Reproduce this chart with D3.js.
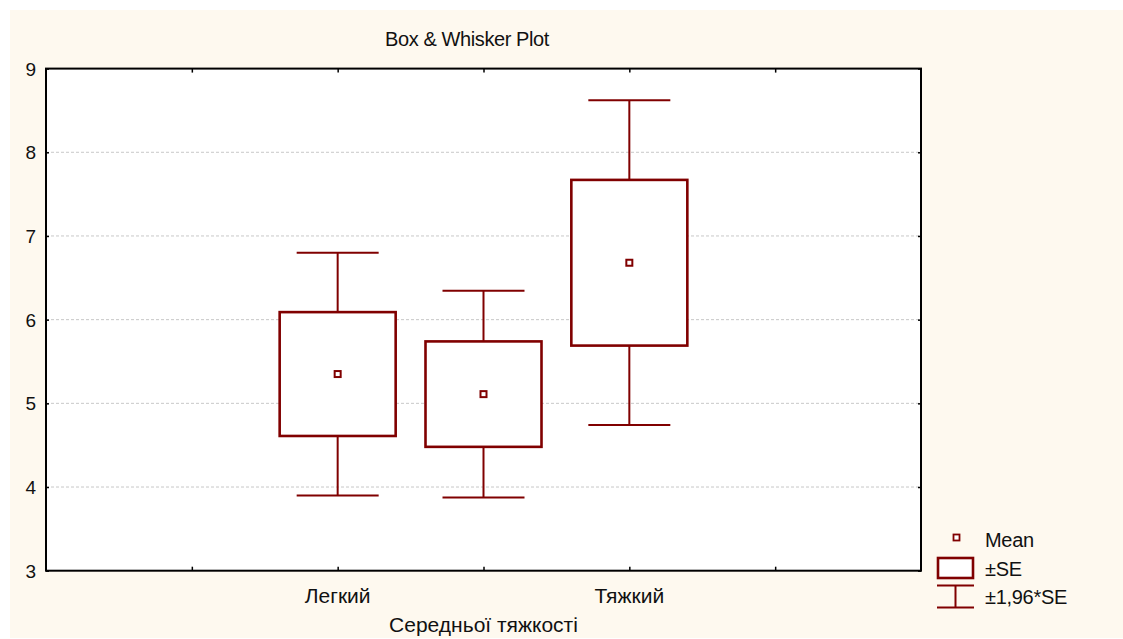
<!DOCTYPE html>
<html>
<head>
<meta charset="utf-8">
<script src="https://cdn.jsdelivr.net/npm/d3@7/dist/d3.min.js"></script>
<style>
  html, body { margin: 0; padding: 0; background: #ffffff; }
  svg { display: block; font-family: Arial, "Liberation Sans", sans-serif; }
</style>
</head>
<body>
<svg id="chart" width="1123" height="639"></svg>
<script>
// Groups and their summary statistics (mean and standard error)
const categories = ["Легкий", "Середньої тяжкості", "Тяжкий"];
const means = [5.35, 5.11, 6.68];
const stdErrors = [0.74, 0.63, 0.99];
const yTicks = [3, 4, 5, 6, 7, 8, 9];
const legendLabels = ["Mean", "±SE", "±1,96*SE"];

const color = "#800000";
const svg = d3.select("#chart");

// Figure background panel
svg.append("rect").attr("x", 10).attr("y", 10).attr("width", 1113).attr("height", 628)
  .attr("fill", "#fef9ef");

const plot = { left: 46, top: 68.6, right: 921, bottom: 570.7 };

svg.append("rect")
  .attr("x", plot.left).attr("y", plot.top)
  .attr("width", plot.right - plot.left).attr("height", plot.bottom - plot.top)
  .attr("fill", "#ffffff");

// Scales: categories sit at positions 2, 3, 4 on a 0..6 axis
const x = d3.scaleLinear().domain([0, 6]).range([plot.left, plot.right]);
const catPos = categories.map((c, i) => i + 2);
const y = d3.scaleLinear().domain([3, 9]).range([plot.bottom, plot.top]);

// Horizontal dashed grid
svg.append("g").selectAll("line")
  .data(yTicks.filter(t => t > 3 && t < 9))
  .join("line")
  .attr("x1", plot.left).attr("x2", plot.right)
  .attr("y1", d => y(d)).attr("y2", d => y(d))
  .attr("stroke", "#c8c8c8").attr("stroke-width", 1)
  .attr("stroke-dasharray", "3,2");

// Axes with inward ticks
const xTickVals = [1, 2, 3, 4, 5];
svg.append("g").attr("transform", `translate(0,${plot.bottom})`)
  .call(d3.axisTop(x).tickValues(xTickVals).tickSize(4).tickFormat(""))
  .call(g => g.select(".domain").remove())
  .call(g => g.selectAll("line").attr("stroke", "#000").attr("stroke-width", 1.5));
svg.append("g").attr("transform", `translate(0,${plot.top})`)
  .call(d3.axisBottom(x).tickValues(xTickVals).tickSize(4).tickFormat(""))
  .call(g => g.select(".domain").remove())
  .call(g => g.selectAll("line").attr("stroke", "#000").attr("stroke-width", 1.5));
svg.append("g").attr("transform", `translate(${plot.left},0)`)
  .call(d3.axisRight(y).tickValues(yTicks).tickSize(3).tickFormat(""))
  .call(g => g.select(".domain").remove())
  .call(g => g.selectAll("line").attr("stroke", "#000").attr("stroke-width", 1.5));
svg.append("g").attr("transform", `translate(${plot.right},0)`)
  .call(d3.axisLeft(y).tickValues(yTicks).tickSize(3).tickFormat(""))
  .call(g => g.select(".domain").remove())
  .call(g => g.selectAll("line").attr("stroke", "#000").attr("stroke-width", 1.5));

// Y tick labels
svg.append("g").selectAll("text")
  .data(yTicks).join("text")
  .attr("x", 36).attr("y", d => y(d) + 7)
  .attr("text-anchor", "end")
  .attr("font-size", 19).attr("fill", "#111")
  .text(d => d);

// Category labels (middle one staggered below)
svg.append("g").selectAll("text")
  .data(categories).join("text")
  .attr("x", (d, i) => x(catPos[i]))
  .attr("y", (d, i) => i === 1 ? 631.5 : 603.3)
  .attr("text-anchor", "middle")
  .attr("font-size", 21).attr("fill", "#111")
  .text(d => d);

// Title
svg.append("text")
  .attr("x", 467).attr("y", 46)
  .attr("text-anchor", "middle")
  .attr("font-size", 20).attr("fill", "#111")
  .attr("letter-spacing", -0.4)
  .text("Box & Whisker Plot");

// Boxes and whiskers
const boxW = 116, capW = 82;
const groups = svg.append("g").selectAll("g")
  .data(categories.map((c, i) => ({ c, pos: catPos[i], mean: means[i], se: stdErrors[i] })))
  .join("g");

groups.append("line")
  .attr("x1", d => x(d.pos)).attr("x2", d => x(d.pos))
  .attr("y1", d => y(d.mean + 1.96 * d.se)).attr("y2", d => y(d.mean - 1.96 * d.se))
  .attr("stroke", color).attr("stroke-width", 2);
groups.selectAll(".cap")
  .data(d => [d.mean + 1.96 * d.se, d.mean - 1.96 * d.se].map(v => ({ v, pos: d.pos })))
  .join("line").attr("class", "cap")
  .attr("x1", d => x(d.pos) - capW / 2).attr("x2", d => x(d.pos) + capW / 2)
  .attr("y1", d => y(d.v)).attr("y2", d => y(d.v))
  .attr("stroke", color).attr("stroke-width", 2);
groups.append("rect")
  .attr("x", d => x(d.pos) - boxW / 2)
  .attr("y", d => y(d.mean + d.se))
  .attr("width", boxW)
  .attr("height", d => y(d.mean - d.se) - y(d.mean + d.se))
  .attr("fill", "#ffffff").attr("stroke", color).attr("stroke-width", 2.6);
groups.append("rect")
  .attr("x", d => x(d.pos) - 3).attr("y", d => y(d.mean) - 3)
  .attr("width", 6).attr("height", 6)
  .attr("fill", "#ffffff").attr("stroke", color).attr("stroke-width", 2);

// Plot frame
svg.append("rect")
  .attr("x", plot.left).attr("y", plot.top)
  .attr("width", plot.right - plot.left).attr("height", plot.bottom - plot.top)
  .attr("fill", "none").attr("stroke", "#000").attr("stroke-width", 2);

// Legend
const lg = svg.append("g");
lg.append("rect").attr("x", 953.5).attr("y", 534.5).attr("width", 6).attr("height", 6)
  .attr("fill", "#fff").attr("stroke", color).attr("stroke-width", 1.8);
lg.append("rect").attr("x", 938).attr("y", 558).attr("width", 35).attr("height", 20)
  .attr("fill", "#fff").attr("stroke", color).attr("stroke-width", 2.6);
lg.append("line").attr("x1", 937).attr("x2", 974).attr("y1", 585.5).attr("y2", 585.5)
  .attr("stroke", color).attr("stroke-width", 2);
lg.append("line").attr("x1", 937).attr("x2", 974).attr("y1", 607.5).attr("y2", 607.5)
  .attr("stroke", color).attr("stroke-width", 2);
lg.append("line").attr("x1", 955.5).attr("x2", 955.5).attr("y1", 585.5).attr("y2", 607.5)
  .attr("stroke", color).attr("stroke-width", 2);
lg.selectAll("text").data(legendLabels).join("text")
  .attr("x", 985).attr("y", (d, i) => [546.5, 576, 604.3][i])
  .attr("font-size", 20).attr("fill", "#111")
  .attr("letter-spacing", -0.3)
  .text(d => d);
</script>
</body>
</html>
